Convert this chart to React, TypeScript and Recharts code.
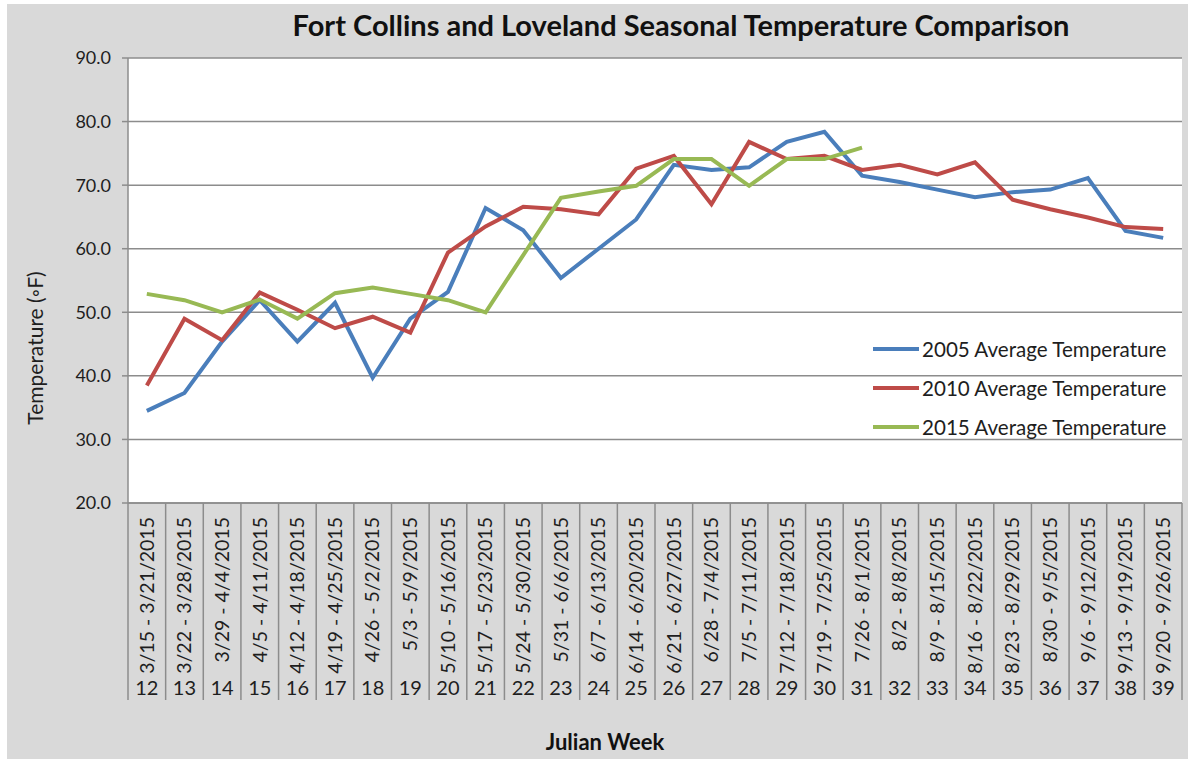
import { LineChart, Line, XAxis, YAxis, CartesianGrid, Legend } from "recharts";

const weeks = [12, 13, 14, 15, 16, 17, 18, 19, 20, 21, 22, 23, 24, 25, 26, 27, 28, 29, 30, 31, 32, 33, 34, 35, 36, 37, 38, 39];
const ranges = [
  "3/15 - 3/21/2015", "3/22 - 3/28/2015", "3/29 - 4/4/2015", "4/5 - 4/11/2015",
  "4/12 - 4/18/2015", "4/19 - 4/25/2015", "4/26 - 5/2/2015", "5/3 - 5/9/2015",
  "5/10 - 5/16/2015", "5/17 - 5/23/2015", "5/24 - 5/30/2015", "5/31 - 6/6/2015",
  "6/7 - 6/13/2015", "6/14 - 6/20/2015", "6/21 - 6/27/2015", "6/28 - 7/4/2015",
  "7/5 - 7/11/2015", "7/12 - 7/18/2015", "7/19 - 7/25/2015", "7/26 - 8/1/2015",
  "8/2 - 8/8/2015", "8/9 - 8/15/2015", "8/16 - 8/22/2015", "8/23 - 8/29/2015",
  "8/30 - 9/5/2015", "9/6 - 9/12/2015", "9/13 - 9/19/2015", "9/20 - 9/26/2015",
];
const temp2005 = [34.5, 37.3, 45.4, 51.9, 45.4, 51.5, 39.7, 49.0, 53.2, 66.4, 62.9, 55.4, 60.0, 64.6, 73.2, 72.4, 72.8, 76.8, 78.4, 71.5, 70.5, 69.3, 68.1, 68.9, 69.3, 71.1, 62.8, 61.7];
const temp2010 = [38.5, 49.0, 45.6, 53.1, 50.4, 47.5, 49.3, 46.8, 59.4, 63.5, 66.6, 66.2, 65.4, 72.6, 74.6, 67.0, 76.8, 74.1, 74.6, 72.4, 73.2, 71.7, 73.6, 67.7, 66.2, 64.9, 63.4, 63.1];
const temp2015 = [52.9, 51.9, 50.0, 52.0, 49.0, 53.0, 53.9, 52.9, 51.9, 50.0, 59.0, 68.0, 69.0, 69.9, 74.1, 74.1, 69.9, 74.1, 74.1, 75.9, null, null, null, null, null, null, null, null];
const yTicks = [20, 30, 40, 50, 60, 70, 80, 90];

const data = weeks.map((w, i) => ({
  week: w,
  range: ranges[i],
  t2005: temp2005[i],
  t2010: temp2010[i],
  t2015: temp2015[i],
}));

const FONT = "Lato, 'Open Sans', sans-serif";
const GRID = "#8c8c8c";
const TEXT = "#1e1e1e";
const PLOT_LEFT = 128;
const PLOT_RIGHT = 1182;
const band = (PLOT_RIGHT - PLOT_LEFT) / weeks.length;

function WeekTick(props: any) {
  const { x, y, payload, index } = props;
  const i = index ?? 0;
  return (
    <g>
      <line x1={x - band / 2} x2={x - band / 2} y1={y} y2={y + 197} stroke={GRID} strokeWidth={1.5} />
      {i === weeks.length - 1 && (
        <line x1={x + band / 2} x2={x + band / 2} y1={y} y2={y + 197} stroke={GRID} strokeWidth={1.5} />
      )}
      <text
        x={x}
        y={y + 14}
        transform={`rotate(-90, ${x}, ${y + 14})`}
        textAnchor="end"
        dy="0.35em"
        fontSize={19.5}
        fontFamily={FONT}
        fill={TEXT}
      >
        {ranges[i]}
      </text>
      <text x={x} y={y + 185} textAnchor="middle" dy="0.35em" fontSize={20} fontFamily={FONT} fill={TEXT}>
        {payload.value}
      </text>
    </g>
  );
}

function LegendBox(props: any) {
  const items = props.payload || [];
  return (
    <div style={{ fontFamily: FONT, fontSize: 20.6, color: TEXT }}>
      {items.map((it: any) => (
        <div key={it.value} style={{ display: "flex", alignItems: "center", height: 39 }}>
          <svg width={46} height={6} style={{ marginRight: 3 }}>
            <line x1={0} x2={46} y1={3} y2={3} stroke={it.color} strokeWidth={4} />
          </svg>
          <span>{it.value}</span>
        </div>
      ))}
    </div>
  );
}

export default function App() {
  return (
    <div style={{ position: "absolute", left: 0, top: 0, width: 1192, height: 759, background: "#fff" }}>
      <div style={{ position: "absolute", left: 7, top: 4, width: 1181, height: 755, background: "#d9d9d9" }} />
      <div
        style={{
          position: "absolute",
          left: 0,
          width: 1362,
          top: 7,
          textAlign: "center",
          fontFamily: FONT,
          fontWeight: 700,
          fontSize: 29,
          color: "#111",
          whiteSpace: "nowrap",
        }}
      >
        Fort Collins and Loveland Seasonal Temperature Comparison
      </div>
      <div
        style={{
          position: "absolute",
          left: 35 - 120,
          top: 348 - 14,
          width: 240,
          height: 28,
          lineHeight: "28px",
          textAlign: "center",
          transform: "rotate(-90deg)",
          fontFamily: FONT,
          fontSize: 21,
          color: TEXT,
          whiteSpace: "nowrap",
        }}
      >
        Temperature (◦F)
      </div>
      <div
        style={{
          position: "absolute",
          left: 605 - 100,
          width: 200,
          top: 742 - 14,
          lineHeight: "28px",
          textAlign: "center",
          fontFamily: FONT,
          fontWeight: 700,
          fontSize: 22,
          color: "#111",
        }}
      >
        Julian Week
      </div>
      <LineChart
        width={1192}
        height={759}
        data={data}
        margin={{ top: 58, right: 1192 - PLOT_RIGHT, bottom: 59, left: 68 }}
        style={{ position: "absolute", left: 0, top: 0 }}
      >
        <CartesianGrid vertical={false} fill="#fff" stroke={GRID} strokeWidth={1.5} />
        <XAxis
          dataKey="week"
          height={197}
          interval={0}
          padding={{ left: band / 2, right: band / 2 }}
          tickLine={false}
          tickSize={0}
          tickMargin={0}
          axisLine={{ stroke: GRID, strokeWidth: 1.5 }}
          tick={<WeekTick />}
        />
        <YAxis
          width={60}
          domain={[20, 90]}
          ticks={yTicks}
          tickFormatter={(v: number) => v.toFixed(1)}
          tickSize={6}
          tickMargin={11}
          axisLine={{ stroke: GRID, strokeWidth: 1.5 }}
          tickLine={{ stroke: GRID, strokeWidth: 1.5 }}
          tick={{ fontSize: 18, fontFamily: FONT, fill: TEXT }}
        />
        <Legend
          layout="vertical"
          align="center"
          verticalAlign="middle"
          content={<LegendBox />}
          wrapperStyle={{ left: 873, top: 329, width: "auto" }}
        />
        <Line dataKey="t2005" name="2005 Average Temperature" stroke="#4a7ebb" strokeWidth={4} dot={false} isAnimationActive={false} />
        <Line dataKey="t2010" name="2010 Average Temperature" stroke="#be4b48" strokeWidth={4} dot={false} isAnimationActive={false} />
        <Line dataKey="t2015" name="2015 Average Temperature" stroke="#98b954" strokeWidth={4} dot={false} isAnimationActive={false} />
      </LineChart>
    </div>
  );
}
